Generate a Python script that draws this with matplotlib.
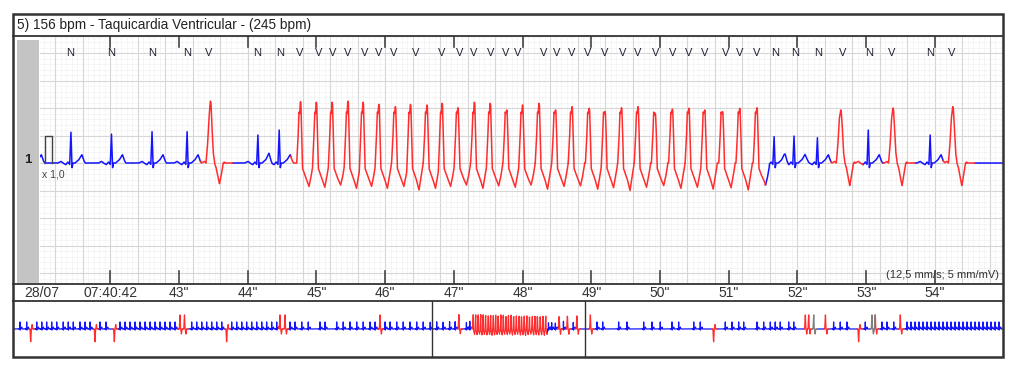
import numpy as np
import matplotlib.pyplot as plt
import matplotlib.transforms as mtransforms
from matplotlib.patches import Rectangle
from matplotlib.lines import Line2D

plt.rcParams['font.family'] = ['Liberation Sans', 'DejaVu Sans']

#%% Data read off the strip
title = "5) 156 bpm - Taquicardia Ventricular - (245 bpm)"
date_label = "28/07"
sec_ticks = [42, 43, 44, 45, 46, 47, 48, 49, 50, 51, 52, 53, 54]
sec_labels = ['07:40:42', '43"', '44"', '45"', '46"', '47"', '48"', '49"',
              '50"', '51"', '52"', '53"', '54"']
speed_text = "(12,5 mm/s; 5 mm/mV)"

# main strip: normal beats (s) and R amplitude (mV)
n_times = [40.84, 41.43, 42.02, 42.61, 43.12, 44.15, 44.46, 51.66, 51.95, 52.29, 53.03, 53.93]
n_amps = [1.05, 1.12, 1.05, 1.14, 1.14, 1.02, 1.20, 0.96, 0.98, 0.92, 1.20, 1.02]
# isolated ventricular beats
v_times = [43.46, 52.63, 53.39, 54.26]
v_amps = [2.25, 1.93, 2.00, 2.05]
v_depths = [-0.76, -0.83, -0.83, -0.83]
# ventricular tachycardia run
vt_times = [44.77, 45.00, 45.23, 45.46, 45.68, 45.91, 46.15, 46.37, 46.61, 46.83,
            47.06, 47.30, 47.53, 47.77, 48.00, 48.24, 48.48, 48.72, 48.97, 49.20,
            49.44, 49.68, 49.93, 50.18, 50.42, 50.65, 50.91, 51.16, 51.41]
vt_amps = [2.23, 2.21, 2.21, 2.25, 2.21, 2.13, 2.05, 2.13, 2.11, 2.17,
           2.01, 2.21, 2.17, 1.93, 2.11, 2.17, 1.93, 2.05, 1.99, 1.87,
           2.01, 2.05, 1.81, 1.96, 1.99, 1.93, 1.87, 1.99, 2.01]
vt_depths = [-0.85, -0.88, -0.80, -0.92, -0.85, -0.92, -0.85, -0.98, -0.92, -0.85,
             -0.80, -0.92, -0.83, -0.88, -0.80, -0.95, -0.85, -0.83, -0.95, -0.90,
             -1.00, -0.88, -0.82, -0.92, -0.88, -0.95, -0.90, -0.98, -0.83]

# beat annotations above the trace
label_times = [41.42, 42.01, 42.61, 43.12, 43.44, 44.14, 44.47, 44.76, 45.03, 45.24,
               45.46, 45.71, 45.90, 46.12, 46.44, 46.83, 47.09, 47.29, 47.53, 47.76,
               47.93, 48.30, 48.49, 48.72, 48.95, 49.19, 49.46, 49.68, 49.93, 50.19,
               50.41, 50.65, 50.95, 51.16, 51.40, 51.67, 51.96, 52.30, 52.65, 53.04,
               53.37, 53.93, 54.25]
label_text = list("NNNNVNNVVVVVVVVVVVVVVVVVVVVVVVVVVVVNNNVNVNV")

# calibration pulse
cal_start, cal_width, cal_mv = 41.05, 0.10, 1.0

# overview strip (whole record, s): beats outside the main window
ov_n_times = [3.30, 3.91, 4.83, 5.29, 5.74, 6.20, 6.66, 7.26, 7.72, 8.18, 8.79, 9.25,
              9.71, 10.62, 11.17, 12.45, 12.91, 13.37, 13.82, 14.28, 14.74, 15.20,
              15.65, 16.11, 16.57, 17.03, 17.48, 19.01, 19.47, 19.93, 20.38, 20.84,
              21.30, 21.76, 22.67, 23.13, 23.59, 24.04, 24.50, 24.96, 25.42, 25.87,
              26.33, 26.79, 28.01, 28.46, 29.08, 29.68, 30.75, 31.21, 32.28, 32.88,
              33.50, 34.11, 34.71, 35.33, 35.79, 36.70, 37.16, 37.77, 38.37, 38.99,
              39.60, 40.20,
              56.10, 56.62, 58.08, 58.84, 60.37, 61.13, 61.89, 62.96, 63.57, 64.95,
              65.55, 67.84, 68.45, 69.06, 69.52, 70.74, 71.35, 71.96, 72.41, 72.87,
              73.64, 74.10, 77.75, 78.36, 78.97, 80.65, 82.17, 82.63, 83.25,
              84.46, 84.83, 85.19, 85.56, 85.93, 86.29, 86.66, 87.02, 87.39, 87.76,
              88.12, 88.49, 88.86, 89.22, 89.59, 89.95, 90.32, 90.69, 91.05, 91.42,
              91.79, 92.15, 92.52, 92.88]
ov_v_times = [17.94, 18.35, 27.09, 27.55, 36.24, 55.49, 75.16, 75.47, 77.00, 81.56, 83.85]
ov_d_times = [4.28, 10.16, 11.93, 22.21, 66.77, 80.04]
ov_x_times = [75.93, 81.26]

# beat templates: offset from peak (ms) and value (mV); None -> amplitude, 'D' -> depth
N_MS = [-190, -145, -115, -75, -45, -18, 0, 15, 30, 60, 115, 145, 160, 190, 210]
N_MV = [0, 0.06, 0, -0.06, 0.04, -0.05, None, -0.18, 0, 0.0, 0.12, 0.25, 0.30, 0.08, 0]
V_MS = [-131, -87, -65, -44, -22, -6, 0, 8, 20, 40, 60, 80, 131, 160, 185, 204]
V_MV = [0, 0.06, 0, 0.6, 1.6, 'A-', None, 'A-', 1.4, 0.4, 0.0, -0.15, 'D', -0.4, 0.0, 0.04]
T_MS = [-55, -36, -22, -12, -5, 0, 6, 14, 30, 51, 80, 124, 153, 182]
T_MV = [0.0, 0.9, 1.85, 1.8, 'A-', None, 'A-', 1.3, -0.2, -0.35, -0.55, 'D', -0.5, -0.05]


def template(kind, amp, depth):
    ms, mv = {'N': (N_MS, N_MV), 'T': (T_MS, T_MV)}.get(kind, (V_MS, V_MV))
    lookup = {None: amp, 'D': depth, 'A-': amp - 0.08}
    vals = np.array([lookup[v] if v in lookup else v for v in mv], float)
    if kind == 'D':
        vals = -vals
    return np.array(ms) / 1000.0, vals


def synth(t, beats):
    y = np.zeros_like(t)
    for tb, kind, amp, depth in beats:
        s, v = template(kind, amp, depth)
        m = (t >= tb + s[0]) & (t <= tb + s[-1])
        y[m] += np.interp(t[m] - tb, s, v)
    return y


def masks(t, beats):
    red = np.zeros(t.shape, bool)
    gray = np.zeros(t.shape, bool)
    for tb, kind, _, _ in beats:
        if kind in 'VTD':
            post = 0.125 if kind == 'T' else 0.32
            red |= (t >= tb - 0.14) & (t <= tb + post)
        elif kind == 'X':
            gray |= (t >= tb - 0.14) & (t <= tb + 0.32)
    return red, gray


def draw_trace(ax, t, beats, lw):
    y = synth(t, beats)
    red, gray = masks(t, beats)
    grow = lambda m: m | np.roll(m, 1) | np.roll(m, -1)
    ax.plot(t, np.where(red | gray, np.nan, y), color='#1414ff', lw=lw)
    ax.plot(t, np.where(grow(red), y, np.nan), color='#ff2d2d', lw=lw)
    ax.plot(t, np.where(grow(gray), y, np.nan), color='#808080', lw=lw)


main_beats = ([(a, 'N', b, 0) for a, b in zip(n_times, n_amps)]
              + [(a, 'V', b, c) for a, b, c in zip(v_times, v_amps, v_depths)]
              + [(a, 'T', b, c) for a, b, c in zip(vt_times, vt_amps, vt_depths)])
ov_beats = (main_beats
            + [(a, 'N', 1.1, 0) for a in ov_n_times]
            + [(a, 'V', 2.2, -0.8) for a in ov_v_times]
            + [(a, 'D', 2.0, -0.7) for a in ov_d_times]
            + [(a, 'X', 2.2, -0.8) for a in ov_x_times])

#%% Figure
W, H = 1024, 372
fx = lambda px: px / W
fy = lambda py: 1 - py / H
fig = plt.figure(figsize=(W / 100, H / 100), dpi=100)
ink = '#333333'

# main strip
ax = fig.add_axes([fx(40), fy(284), fx(963), 248 / H])
ax.set_xlim(40.98, 54.99)
ax.set_ylim(-4.40, 4.62)
ax.set_xticks(np.arange(41.2, 55, 0.4))
ax.set_xticks(np.arange(41.04, 55, 0.08), minor=True)
ax.set_yticks(np.arange(-4, 5, 1.0))
ax.set_yticks(np.arange(-4.4, 4.7, 0.2), minor=True)
ax.grid(which='major', color='#d6d6d6', lw=0.8)
ax.grid(which='minor', color='#e6e6e6', lw=0.5, ls=(0, (1, 1)))
ax.tick_params(which='both', length=0, labelbottom=False, labelleft=False)
for sp in ax.spines.values():
    sp.set_visible(False)
ax.set_axisbelow(True)

t_main = np.arange(40.98, 54.99, 0.002)
draw_trace(ax, t_main, main_beats, 1.1)
ax.plot([cal_start, cal_start, cal_start + cal_width, cal_start + cal_width],
        [0, cal_mv, cal_mv, 0], color='#444444', lw=1.0)
ax.text(cal_start - 0.04, -0.22, 'x 1,0', fontsize=7.5, color='#444444', va='top')

for s in sec_ticks:
    ax.axvline(s, ymin=0, ymax=13 / 248, color='#444444', lw=1.2)
    ax.axvline(s, ymin=1 - 11 / 248, ymax=1, color='#444444', lw=1.2)

lab_tr = mtransforms.blended_transform_factory(ax.transData, ax.transAxes)
for t, s in zip(label_times, label_text):
    ax.text(t, 1 - 17 / 248, s, transform=lab_tr, ha='center', va='center',
            fontsize=8, color='#222233')
ax.text(0.996, 0.035, speed_text, transform=ax.transAxes, ha='right', va='center',
        fontsize=8, color=ink)

# time labels row
time_tr = mtransforms.blended_transform_factory(ax.transData, fig.transFigure)
for s, lab in zip(sec_ticks, sec_labels):
    ax.text(s, fy(293), lab, transform=time_tr, ha='center', va='center',
            fontsize=10, color=ink, clip_on=False)
fig.text(fx(24), fy(293), date_label, ha='left', va='center', fontsize=10, color=ink)

# overview strip
ov = fig.add_axes([fx(13), fy(356.7), fx(990), 56 / H])
ov.set_xlim(2.66, 93.25)
ov.set_ylim(-4.33, 4.42)
ov.axis('off')
t_ov = np.arange(2.66, 93.25, 0.002)
draw_trace(ov, t_ov, ov_beats, 0.9)
for s in (t_main[0], t_main[-1]):
    ov.axvline(s, color=ink, lw=1.0)

# header, lead label, frame
fig.text(fx(17), fy(25.5), title, ha='left', va='center', fontsize=9.8, color='#222222')
fig.add_artist(Rectangle((fx(16.7), fy(282.7)), fx(22.6), 242.7 / H,
                         transform=fig.transFigure, color='#c4c4c4', lw=0))
fig.text(fx(27.5), fy(160), '1', ha='center', va='center', fontsize=9.5,
         fontweight='bold', color='#222222')
for py in (36, 284, 300.7):
    fig.add_artist(Line2D([fx(13), fx(1003)], [fy(py), fy(py)],
                          transform=fig.transFigure, color=ink, lw=1.3))
fig.add_artist(Rectangle((fx(13), fy(356.7)), fx(990), 342.7 / H,
                         transform=fig.transFigure, fill=False, ec=ink, lw=1.8))

fig.savefig('out.png', dpi=100)
